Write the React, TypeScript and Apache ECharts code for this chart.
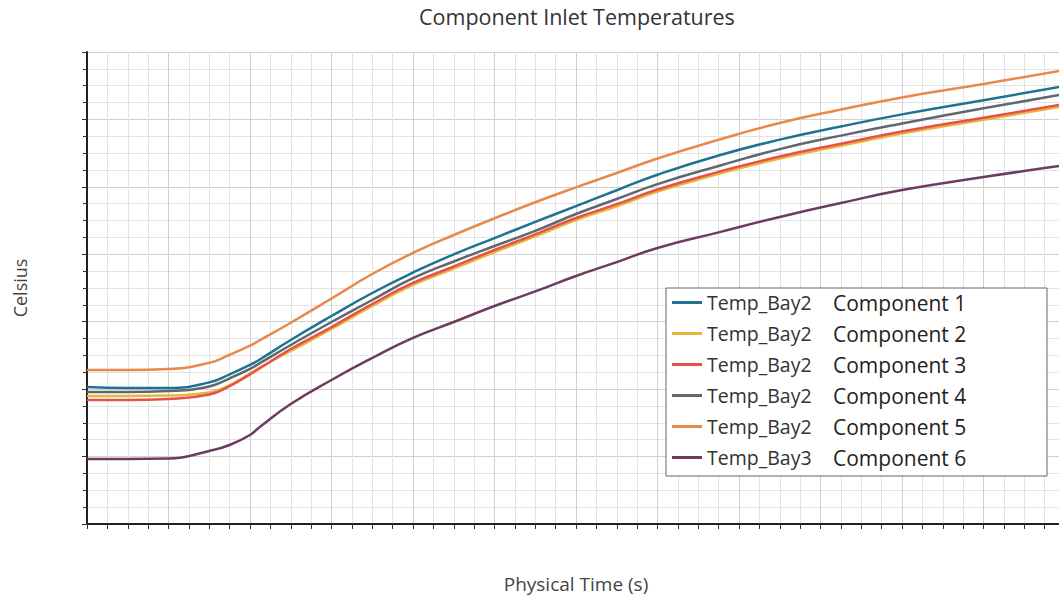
import React, { useEffect, useRef } from "react";
import * as echarts from "echarts";

const times = [0, 50, 100, 150, 175, 200, 212, 250, 300, 350, 400, 450, 500, 550, 600, 650, 700, 775, 850, 925, 1000, 1100, 1193];

const comp1 = [20.32, 20.17, 20.17, 21.0, 22.2, 23.6, 24.4, 27.29, 30.85, 34.26, 37.3, 39.98, 42.4, 44.8, 47.15, 49.5, 51.8, 54.66, 57.0, 58.95, 60.75, 62.85, 64.81];
const comp2 = [18.98, 18.98, 19.05, 19.5, 20.6, 22.3, 23.2, 25.66, 28.92, 32.33, 35.45, 37.89, 40.33, 42.66, 45.08, 47.13, 49.3, 51.92, 54.2, 56.1, 57.9, 59.94, 61.84];
const comp3 = [18.39, 18.39, 18.54, 19.2, 20.45, 22.2, 23.1, 25.95, 29.21, 32.63, 35.75, 38.19, 40.63, 42.96, 45.38, 47.43, 49.6, 52.22, 54.5, 56.4, 58.2, 60.24, 62.14];
const comp4 = [19.58, 19.58, 19.72, 20.4, 21.6, 23.0, 23.85, 26.55, 29.96, 33.22, 36.45, 38.93, 41.23, 43.47, 45.97, 48.2, 50.4, 53.1, 55.6, 57.6, 59.4, 61.65, 63.62];
const comp5 = [22.84, 22.84, 22.99, 23.9, 25.1, 26.45, 27.25, 29.85, 33.44, 37.08, 40.2, 42.86, 45.34, 47.72, 49.93, 52.05, 54.2, 56.99, 59.47, 61.46, 63.26, 65.25, 67.18];
const comp6 = [9.64, 9.64, 9.71, 10.83, 11.72, 13.2, 14.39, 17.8, 21.36, 24.62, 27.6, 29.96, 32.33, 34.49, 36.78, 38.83, 40.93, 43.25, 45.53, 47.6, 49.53, 51.46, 53.09];

const seriesNames = [
  "Temp_Bay2|Component 1",
  "Temp_Bay2|Component 2",
  "Temp_Bay2|Component 3",
  "Temp_Bay2|Component 4",
  "Temp_Bay2|Component 5",
  "Temp_Bay3|Component 6",
];
const seriesValues = [comp1, comp2, comp3, comp4, comp5, comp6];
const colors = ["#1f7391", "#e8b53a", "#e4524a", "#5f6770", "#e8894a", "#6e3b5f"];

export default function App() {
  const ref = useRef<HTMLDivElement>(null);
  useEffect(() => {
    if (!ref.current) return;
    const chart = echarts.init(ref.current, null, { renderer: "svg" });
    const font = "'Open Sans', 'Noto Sans', sans-serif";
    const option: any = {
      animation: false,
      backgroundColor: "#ffffff",
      textStyle: { fontFamily: font },
      title: {
        text: "Component Inlet Temperatures",
        left: 414,
        top: 0,
        textStyle: { fontFamily: font, fontSize: 21.5, fontWeight: "normal", color: "#333" },
      },
      grid: {
        left: 87,
        right: -6,
        top: 52,
        height: 472,
        containLabel: false,
        outerBoundsMode: "none",
      },
      legend: {
        orient: "vertical",
        left: 666,
        top: 288,
        padding: [4, 4, 8, 6],
        itemGap: 10,
        itemWidth: 30,
        itemHeight: 3,
        icon: "rect",
        backgroundColor: "#ffffff",
        borderColor: "#666",
        borderWidth: 1,
        borderRadius: 0,
        formatter: (name: string) => {
          const [a, b] = name.split("|");
          return `{a|${a}}{b|${b}}`;
        },
        textStyle: {
          fontFamily: font,
          rich: {
            a: { fontFamily: font, fontSize: 19.5, color: "#333", width: 126, lineHeight: 24 },
            b: { fontFamily: font, fontSize: 21, color: "#222", width: 210, lineHeight: 24 },
          },
        },
        data: seriesNames,
      },
      xAxis: {
        type: "value",
        min: 0,
        max: 1200,
        interval: 100,
        name: "Physical Time (s)",
        nameLocation: "middle",
        nameGap: 50,
        nameTextStyle: { fontFamily: font, fontSize: 19, color: "#444" },
        axisLine: { show: true, onZero: false, lineStyle: { color: "#222", width: 2 } },
        axisTick: { show: true, length: 5, lineStyle: { color: "#333" } },
        minorTick: { show: true, splitNumber: 4, length: 5, lineStyle: { color: "#333" } },
        axisLabel: { show: false },
        splitLine: { show: true, lineStyle: { color: "#d0d0d0", width: 1 } },
        minorSplitLine: { show: true, lineStyle: { color: "#e3e3e3", width: 1 } },
      },
      yAxis: {
        type: "value",
        min: 0,
        max: 70,
        interval: 10,
        name: "Celsius",
        nameLocation: "middle",
        nameGap: 58,
        nameRotate: 90,
        nameTextStyle: { fontFamily: font, fontSize: 18, color: "#444" },
        axisLine: { show: true, onZero: false, lineStyle: { color: "#222", width: 2 } },
        axisTick: { show: true, length: 5, lineStyle: { color: "#333" } },
        minorTick: { show: true, splitNumber: 4, length: 4, lineStyle: { color: "#333" } },
        axisLabel: { show: false },
        splitLine: { show: true, lineStyle: { color: "#d0d0d0", width: 1 } },
        minorSplitLine: { show: true, lineStyle: { color: "#e3e3e3", width: 1 } },
      },
      series: seriesNames.map((name, i) => ({
        name,
        type: "line",
        showSymbol: false,
        symbol: "none",
        smooth: 0.5,
        color: colors[i],
        lineStyle: { color: colors[i], width: 2.5 },
        data: times.map((t, j) => [t, seriesValues[i][j]]),
        z: i === 1 ? 1 : 2,
      })),
    };
    chart.setOption(option);
    return () => chart.dispose();
  }, []);
  return (
    <div
      ref={ref}
      style={{ position: "absolute", left: 0, top: 0, width: 1059, height: 597 }}
    />
  );
}
